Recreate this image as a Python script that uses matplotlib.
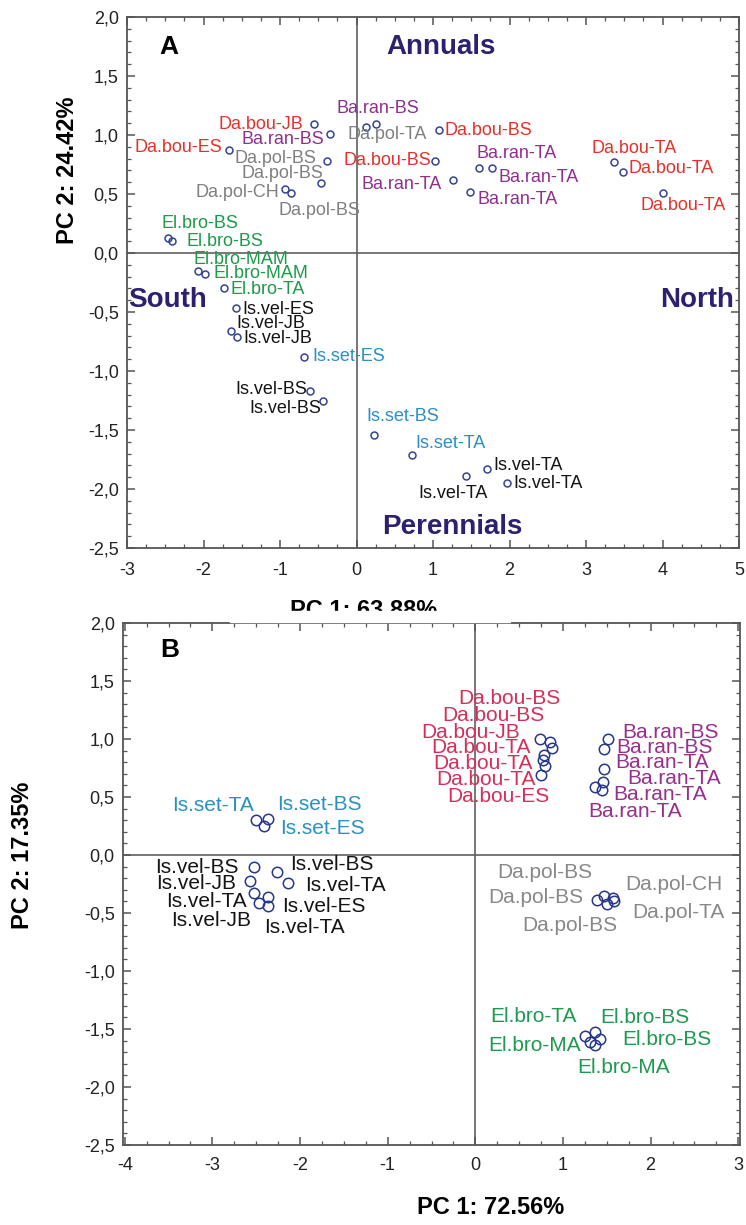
"""PCA score plots (panels A and B) with labelled samples."""

import matplotlib.pyplot as plt
from matplotlib.patches import Rectangle
from matplotlib.ticker import FuncFormatter, MultipleLocator

plt.rcParams["font.family"] = ["Liberation Sans", "DejaVu Sans"]
plt.rcParams["axes.unicode_minus"] = False

# ---- panel A data ----
a_labels = [
    "Da.bou-ES", "Da.bou-JB", "Ba.ran-BS", "Da.pol-BS", "Da.pol-BS", "Da.pol-CH",
    "Da.pol-BS", "Ba.ran-BS", "Da.pol-TA", "Da.bou-BS", "Da.bou-BS", "Ba.ran-TA",
    "Ba.ran-TA", "Ba.ran-TA", "Ba.ran-TA", "Da.bou-TA", "Da.bou-TA", "Da.bou-TA",
    "El.bro-BS", "El.bro-BS", "El.bro-MAM", "El.bro-MAM", "El.bro-TA", "Is.vel-ES",
    "Is.vel-JB", "Is.vel-JB", "Is.set-ES", "Is.vel-BS", "Is.vel-BS", "Is.set-BS",
    "Is.set-TA", "Is.vel-TA", "Is.vel-TA", "Is.vel-TA",
]
a_pc1 = [-1.67, -0.55, -0.35, -0.38, -0.46, -0.93, -0.85, 0.12, 0.25, 1.03, 1.08,
         1.26, 1.60, 1.77, 1.48, 3.37, 3.48, 4.01, -2.47, -2.41, -2.07, -1.98,
         -1.73, -1.58, -1.64, -1.56, -0.69, -0.61, -0.44, 0.23, 0.72, 1.71, 1.43,
         1.97]
a_pc2 = [0.87, 1.09, 1.01, 0.78, 0.59, 0.54, 0.51, 1.07, 1.09, 0.78, 1.04, 0.62,
         0.72, 0.72, 0.52, 0.77, 0.69, 0.51, 0.13, 0.10, -0.15, -0.18, -0.30,
         -0.47, -0.66, -0.71, -0.88, -1.17, -1.25, -1.54, -1.71, -1.83, -1.89,
         -1.95]

# ---- panel B data ----
b_labels = [
    "Da.bou-BS", "Da.bou-BS", "Da.bou-JB", "Da.bou-TA", "Da.bou-TA", "Da.bou-TA",
    "Da.bou-ES", "Ba.ran-BS", "Ba.ran-BS", "Ba.ran-TA", "Ba.ran-TA", "Ba.ran-TA",
    "Ba.ran-TA", "Is.set-TA", "Is.set-BS", "Is.set-ES", "Is.vel-BS", "Is.vel-JB",
    "Is.vel-TA", "Is.vel-JB", "Is.vel-ES", "Is.vel-TA", "Is.vel-BS", "Is.vel-TA",
    "Da.pol-BS", "Da.pol-BS", "Da.pol-CH", "Da.pol-BS", "Da.pol-TA", "El.bro-TA",
    "El.bro-BS", "El.bro-MA", "El.bro-BS", "El.bro-MA",
]
b_pc1 = [0.74, 0.85, 0.87, 0.78, 0.77, 0.80, 0.75, 1.51, 1.47, 1.47, 1.46, 1.36,
         1.44, -2.50, -2.36, -2.41, -2.53, -2.57, -2.53, -2.47, -2.37, -2.36,
         -2.26, -2.14, 1.39, 1.47, 1.57, 1.50, 1.58, 1.25, 1.36, 1.31, 1.42, 1.36]
b_pc2 = [1.00, 0.97, 0.92, 0.86, 0.82, 0.77, 0.69, 1.00, 0.91, 0.74, 0.63, 0.59,
         0.56, 0.30, 0.31, 0.25, -0.10, -0.22, -0.33, -0.41, -0.36, -0.44, -0.15,
         -0.24, -0.39, -0.35, -0.37, -0.42, -0.40, -1.56, -1.53, -1.61, -1.59,
         -1.64]

# label placement (pixel offsets from the point, alignment)
a_offsets = [
    (-6, 3, "right"), (-11, 0, "right"), (-5, -6, "right"), (-11, 2, "right"),
    (2, 10, "right"), (-6, -3, "right"), (-13, -18, "left"), (-29, 18, "left"),
    (-28, -10, "left"), (-4, 0, "right"), (5, 0, "left"), (-11, -5, "right"),
    (-2, 15, "left"), (7, -9, "left"), (8, -8, "left"), (-23, 14, "left"),
    (6, 3, "left"), (-23, -13, "left"), (-6, 14, "left"), (14, 0, "left"),
    (-5, 11, "left"), (8, 1, "left"), (6, -1, "left"), (7, -1, "left"),
    (5, 7, "left"), (6, -2, "left"), (9, 0, "left"), (-3, 2, "right"),
    (-2, -8, "right"), (-8, 18, "left"), (4, 11, "left"), (6, 3, "left"),
    (-13, -17, "center"), (6, 0, "left"),
]
b_offsets = [
    (20, 41, "right"), (-5, 27, "right"), (-32, 16, "right"), (-13, 8, "right"),
    (-10, -4, "right"), (-10, -14, "right"), (8, -22, "right"),
    (15, 7, "left"), (12, 2, "left"), (11, 7, "left"), (24, 3, "left"),
    (-6, -25, "left"), (12, -4, "left"),
    (-2, 15, "right"), (9, 15, "left"), (16, -2, "left"),
    (-15, -1, "right"), (-14, -3, "right"), (-7, -8, "right"), (-8, -18, "right"),
    (15, -10, "left"), (-4, -21, "left"), (13, 8, "left"), (17, -3, "left"),
    (-14, 3, "right"), (-12, 23, "right"), (12, 13, "left"), (11, -22, "right"),
    (18, -11, "left"),
    (-8, 19, "right"), (6, 15, "left"), (-9, -4, "right"), (22, 0, "left"),
    (-17, -22, "left"),
]

a_colors = {"Da.bou": "#e5312b", "Ba.ran": "#8e2f8e", "Da.pol": "#7f7f7f",
            "El.bro": "#1c9a4a", "Is.vel": "#141414", "Is.set": "#2b8ec6"}
b_colors = {"Da.bou": "#d42f5a", "Ba.ran": "#972f8b", "Da.pol": "#888888",
            "El.bro": "#1e9a50", "Is.vel": "#141414", "Is.set": "#2a90c0"}

NAVY = "#2c2170"
SPINE = "#555555"
W, H = 746, 1225

comma = FuncFormatter(lambda v, _: f"{v:.1f}".replace(".", ","))
integer = FuncFormatter(lambda v, _: f"{v:.0f}")


def style_axes(ax, xlim, xpad):
    ax.set_xlim(*xlim)
    ax.set_ylim(-2.5, 2.0)
    ax.xaxis.set_major_locator(MultipleLocator(1))
    ax.xaxis.set_minor_locator(MultipleLocator(0.25))
    ax.yaxis.set_major_locator(MultipleLocator(0.5))
    ax.yaxis.set_minor_locator(MultipleLocator(0.1))
    ax.xaxis.set_major_formatter(integer)
    ax.yaxis.set_major_formatter(comma)
    ax.tick_params(which="both", direction="in", top=True, right=True,
                   color=SPINE, labelsize=13, labelcolor="#222222")
    ax.tick_params(which="major", length=6, width=1.1)
    ax.tick_params(which="minor", length=3, width=0.9)
    ax.tick_params(axis="x", pad=xpad)
    ax.tick_params(axis="y", pad=6)
    for s in ax.spines.values():
        s.set_color(SPINE)
        s.set_linewidth(1.3)
    ax.axhline(0, color="#606060", lw=1.2, zorder=1)
    ax.axvline(0, color="#606060", lw=1.2, zorder=1)


def draw_points(ax, xs, ys, labels, offsets, colors, msize, mcolor, fsize):
    ax.plot(xs, ys, "o", ms=msize, mfc="none", mec=mcolor, mew=1.1,
            ls="none", zorder=3)
    for x, y, lab, (dx, dy, ha) in zip(xs, ys, labels, offsets):
        ax.annotate(lab, (x, y), xytext=(dx, dy), textcoords="offset pixels",
                    ha=ha, va="center", color=colors[lab[:6]], fontsize=fsize,
                    zorder=4)


fig = plt.figure(figsize=(W / 100, H / 100), dpi=100)

# panel A
axA = fig.add_axes([127 / W, 1 - 548 / H, 612 / W, 531 / H])
style_axes(axA, (-3.0, 5.0), 10)
draw_points(axA, a_pc1, a_pc2, a_labels, a_offsets, a_colors, 5, "#34448f", 13)
axA.text(-2.45, 1.75, "A", fontsize=19, fontweight="bold", ha="center",
         va="center")
axA.text(1.11, 1.75, "Annuals", fontsize=20, fontweight="bold", color=NAVY,
         ha="center", va="center")
axA.text(-2.98, -0.40, "South", fontsize=20, fontweight="bold", color=NAVY,
         ha="left", va="center")
axA.text(4.94, -0.40, "North", fontsize=20, fontweight="bold", color=NAVY,
         ha="right", va="center")
axA.text(1.25, -2.32, "Perennials", fontsize=20, fontweight="bold", color=NAVY,
         ha="center", va="center")

fig.text(68 / W, 1 - 170 / H, "PC 2: 24.42%", rotation=90, fontsize=17,
         fontweight="bold", ha="center", va="center")
fig.text(364 / W, 1 - 599 / H, "PC 1: 63.88%", fontsize=17,
         fontweight="bold", ha="center", va="top")
# the lower panel covers the bottom of the panel A x-label
fig.patches.append(Rectangle((230 / W, 1 - 622 / H), 280 / W, 11 / H,
                             transform=fig.transFigure, color="white",
                             zorder=10))

# panel B
axB = fig.add_axes([123 / W, 1 - 1145 / H, 617 / W, 522 / H])
style_axes(axB, (-4.02, 3.02), 9)
draw_points(axB, b_pc1, b_pc2, b_labels, b_offsets, b_colors, 7.5, "#26368a", 15)
axB.text(-3.49, 1.77, "B", fontsize=19, fontweight="bold", ha="center",
         va="center")

fig.text(23 / W, 1 - 855 / H, "PC 2: 17.35%", rotation=90, fontsize=17,
         fontweight="bold", ha="center", va="center")
fig.text(491 / W, 1 - 1208 / H, "PC 1: 72.56%", fontsize=17,
         fontweight="bold", ha="center", va="center")

fig.savefig("out.png", dpi=100)
